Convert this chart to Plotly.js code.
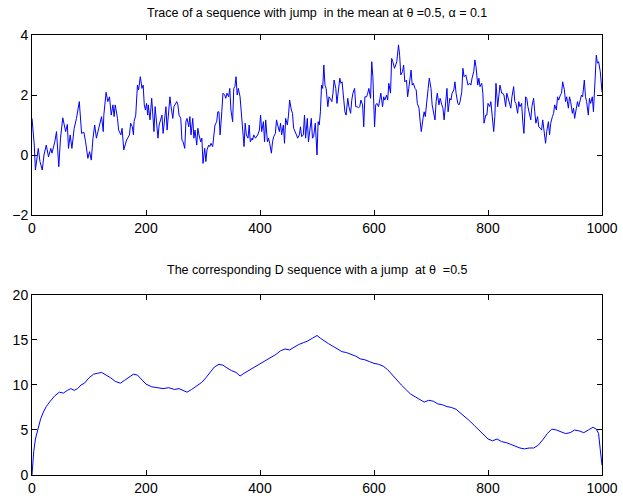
<!DOCTYPE html>
<html>
<head>
<meta charset="utf-8">
<script src="https://cdn.plot.ly/plotly-3.0.1.min.js"></script>
<style>html,body{margin:0;padding:0;background:#fff;}#chart{width:623px;height:498px;}</style>
</head>
<body>
<div id="chart"></div>
<script>
// Top panel: trace of the sequence (index, value)
const traceIdx = [0,4,6,11,14,18,21,25,29,33,35,40,43,47,50,54,59,62,64,67,70,74,78,83,87,91,94,97,98,101,104,107,110,113,116,119,122,125,126,130,133,136,139,142,144,146,150,152,156,158,161,166,169,
171,173,176,178,179,182,185,187,190,193,195,197,199,201,203,204,207,210,211,214,216,218,221,223,225,228,230,233,235,237,240,242,244,247,249,251,254,256,258,261,263,265,268,270,272,275,277,279,282,284,286,289,291,293,296,298,300,303,305,307,310,312,314,317,319,321,324,326,
328,330,333,335,338,340,342,345,347,349,352,354,356,358,360,362,365,367,369,372,374,376,379,381,383,386,387,389,392,394,396,399,401,403,406,408,410,413,415,417,420,422,424,427,429,431,434,436,438,441,443,445,448,450,452,455,457,459,462,464,466,469,471,473,476,478,480,483,485,487,490,492,494,497,499,500,
502,504,506,508,510,512,514,516,519,521,523,526,528,530,533,535,537,540,542,544,547,549,551,554,556,559,561,563,566,568,570,573,575,577,580,582,584,587,589,591,594,596,598,601,603,605,608,610,612,615,617,619,622,624,626,629,631,633,636,638,640,643,645,647,650,652,654,657,659,661,
665,667,669,672,674,676,679,681,683,686,688,690,693,695,697,700,702,704,707,709,711,714,716,719,721,723,726,728,730,733,735,737,740,742,744,747,749,751,754,756,758,761,763,765,768,770,772,775,777,779,782,784,786,789,791,793,796,798,800,803,805,807,810,812,814,817,819,821,824,
826,828,831,833,835,838,840,842,845,847,849,852,854,856,859,861,863,866,868,870,873,875,877,880,882,884,887,889,892,894,896,899,901,903,906,908,910,913,915,917,920,922,924,927,929,931,934,936,938,941,943,945,948,950,952,955,957,959,962,964,966,969,971,973,976,978,980,983,985,987,990,992,994,997,999,1000];
const traceVal = [1.22,0.33,-0.5,0.22,-0.22,-0.5,0,0.33,-0.06,0.22,0.06,0.44,0.78,-0.39,0.56,1.24,0.78,1.02,0.22,0.67,0.22,0.89,1.22,1.78,0.72,0.76,0.44,0,-0.11,0.11,-0.17,0.56,1.0,0.56,0.78,1.06,1.28,0.78,1.33,2.09,1.78,1.94,1.33,1.67,1.28,1.67,1.22,0.83,0.67,0.89,0.17,0.5,0.61,
0.67,1.06,0.94,0.67,1.11,1.33,2.33,2.17,2.61,2.22,2.33,1.67,1.5,1.72,1.33,1.67,1.17,1.89,1.56,0.78,1.61,1.22,0.56,1.0,1.11,1.33,0.72,1.22,1.61,0.83,1.67,1.94,1.61,1.22,1.61,1.67,1.78,1.67,1.33,1.22,0.5,0.44,0.22,1.11,1.22,0.94,1.28,0.67,1.22,0.56,0.83,0.33,0.89,0.67,0.44,0.56,-0.28,0.22,-0.22,0.17,0.33,0.28,0.39,0.28,0.56,1.0,1.11,1.44,
1.44,0.67,1.44,2.06,2.0,1.89,2.06,1.94,2.22,1.5,1.11,2.22,2.28,2.61,2.0,2.22,1.94,1.39,0.78,0.28,1.06,0.67,0.56,1.0,0.44,0.56,0.5,0.67,0.56,0.61,0.67,0.83,1.33,0.78,1.11,0.44,1.17,0.44,0.56,0.39,0.06,0.44,0.61,0.72,1.17,1.0,0.78,1.06,0.67,1.0,0.39,1.22,1.0,1.33,1.83,1.5,1.39,0.89,0.78,0.67,0.56,0.67,0.94,0.61,0.67,1.33,0.56,1.22,0.44,0.72,1.22,0.56,0.61,1.06,0.33,0.0,
1.11,1.0,1.44,2.33,2.22,3.0,2.33,2.22,1.61,1.94,1.89,1.78,2.06,2.5,2.22,1.72,2.06,2.56,2.39,2.44,1.83,1.44,1.33,1.89,1.61,1.39,1.83,2.06,2.22,1.61,1.61,1.58,1.61,1.83,1.67,0.94,1.94,1.94,2.06,2.22,1.89,3.11,2.61,0.94,1.67,1.72,1.61,1.89,2.06,1.61,1.94,1.83,2.0,1.83,2.39,2.06,3.22,3.11,2.89,3.0,3.11,3.67,3.33,2.67,2.78,3.0,2.44,2.5,1.94,2.22,
2.83,2.33,2.39,2.22,2.17,1.72,1.56,1.11,0.78,1.22,1.44,1.28,2.0,2.22,2.56,2.22,1.67,1.5,1.17,1.78,2.06,1.67,1.89,1.67,1.56,1.17,1.83,2.22,1.44,1.89,1.83,2.06,2.17,2.44,2.06,1.72,1.67,1.78,2.11,2.89,2.61,2.67,2.5,2.33,2.39,2.33,2.56,2.78,3.17,2.94,2.33,2.56,2.28,2.39,2.06,1.06,1.33,1.33,1.72,1.61,1.78,1.44,0.78,1.28,2.39,1.61,2.11,2.33,2.06,
2.06,2.0,1.61,2.06,1.89,1.72,1.56,1.94,2.28,1.78,1.72,1.39,1.78,1.61,1.72,1.11,0.72,1.94,1.89,1.61,1.39,1.17,1.61,1.89,1.44,1.06,1.28,0.94,0.89,0.83,1.17,0.67,0.39,0.78,1.11,0.67,1.06,1.28,1.39,1.67,1.5,1.94,1.83,2.0,2.06,2.44,2.17,1.78,1.94,1.56,1.94,1.78,1.39,1.56,1.22,1.56,1.78,1.61,1.83,2.0,1.94,2.5,1.94,1.78,1.33,1.89,1.72,1.94,1.44,2.44,3.33,3.06,3.11,2.78,2.22,2.1];

// Bottom panel: D sequence (index, value)
const dIdx = [0,3,6,10,15,20,25,32,40,48,55,62,68,74,80,86,92,100,108,115,122,130,138,146,155,162,170,178,185,192,200,210,220,230,240,250,258,265,272,280,290,298,305,312,320,328,335,342,350,358,365,372,380,388,396,404,412,420,428,436,444,452,460,468,476,484,492,500,506,512,520,528,536,544,552,560,568,576,584,592,600,608,616,624,632,640,648,656,664,672,680,688,696,704,712,720,728,736,744,752,760,768,776,784,792,800,808,816,824,832,840,848,856,864,872,880,888,896,904,912,920,928,936,944,952,960,968,976,984,990,994,997,1000];
const dVal = [0,2.6,4.0,5.0,6.2,7.0,7.6,8.2,8.8,9.2,9.1,9.4,9.6,9.4,9.6,10.0,10.2,10.8,11.2,11.3,11.4,11.1,10.8,10.4,10.2,10.5,10.9,11.2,11.1,10.6,10.1,9.8,9.7,9.6,9.7,9.5,9.6,9.4,9.2,9.5,9.9,10.3,10.8,11.4,12.0,12.3,12.2,11.9,11.6,11.4,11.0,11.3,11.6,11.9,12.2,12.5,12.8,13.1,13.4,13.8,14.0,13.9,14.2,14.5,14.7,14.9,15.2,15.5,15.2,14.9,14.6,14.3,14.0,13.7,13.6,13.4,13.2,12.9,12.8,12.6,12.4,12.3,12.1,11.7,11.1,10.5,10.0,9.5,9.0,8.7,8.4,8.1,8.3,8.2,7.9,7.8,7.6,7.5,7.3,6.9,6.5,6.0,5.5,5.0,4.5,4.0,3.8,4.0,3.7,3.6,3.4,3.2,3.0,2.9,3.0,3.0,3.3,3.9,4.6,5.1,5.0,4.8,4.6,4.7,5.0,4.9,4.7,5.0,5.3,5.1,4.6,2.8,1.1];

const xTicks = [0,200,400,600,800,1000];
const topYTicks = [-2,0,2,4];
const botYTicks = [0,5,10,15,20];
const topTitle = 'Trace of a sequence with jump  in the mean at θ =0.5, α = 0.1';
const botTitle = 'The corresponding D sequence with a jump  at θ  =0.5';

const font = {family: 'Liberation Sans, Arial, Helvetica, sans-serif', size: 14, color: '#000'};
const axisCommon = {
  showline: true, mirror: 'ticks', linecolor: '#000', linewidth: 1,
  ticks: 'inside', ticklen: 5, tickcolor: '#000', tickwidth: 1,
  showgrid: false, zeroline: false, tickfont: font
};

const data = [
  {x: traceIdx, y: traceVal, type: 'scatter', mode: 'lines', line: {color: '#0000ff', width: 1}, xaxis: 'x', yaxis: 'y', hoverinfo: 'skip'},
  {x: dIdx, y: dVal, type: 'scatter', mode: 'lines', line: {color: '#0000ff', width: 1}, xaxis: 'x2', yaxis: 'y2', hoverinfo: 'skip'}
];

const layout = {
  width: 623, height: 498,
  margin: {l: 32, r: 21, t: 35, b: 23, pad: 0},
  paper_bgcolor: '#fff', plot_bgcolor: '#fff',
  showlegend: false,
  font: font,
  xaxis: Object.assign({}, axisCommon, {domain: [0, 1], range: [0, 1000], tickvals: xTicks, anchor: 'y'}),
  yaxis: Object.assign({}, axisCommon, {domain: [0.5909, 1], range: [-2, 4], tickvals: topYTicks, anchor: 'x'}),
  xaxis2: Object.assign({}, axisCommon, {domain: [0, 1], range: [0, 1000], tickvals: xTicks, anchor: 'y2'}),
  yaxis2: Object.assign({}, axisCommon, {domain: [0, 0.4091], range: [0, 20], tickvals: botYTicks, anchor: 'x2'}),
  annotations: [
    {text: topTitle, xref: 'paper', yref: 'paper', x: 0.5, y: 1.05, xanchor: 'center', yanchor: 'middle', showarrow: false, font: {family: font.family, size: 12.5, color: '#000'}},
    {text: botTitle, xref: 'paper', yref: 'paper', x: 0.5, y: 0.466, xanchor: 'center', yanchor: 'middle', showarrow: false, font: {family: font.family, size: 12.5, color: '#000'}}
  ]
};

Plotly.newPlot('chart', data, layout, {displayModeBar: false, staticPlot: true});
</script>
</body>
</html>
